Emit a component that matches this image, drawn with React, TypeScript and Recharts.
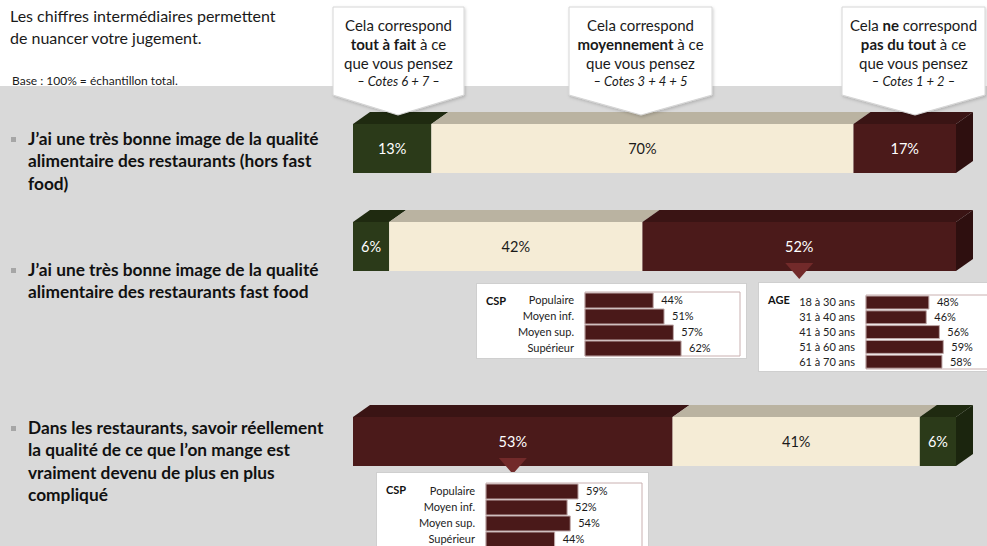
import React from "react";
import { BarChart, Bar, XAxis, YAxis, LabelList, ReferenceArea } from "recharts";

const FONT = "Lato, 'Open Sans', sans-serif";

// statements (left column)
const statements = [
  ["J’ai une très bonne image de la qualité", "alimentaire des restaurants (hors fast", "food)"],
  ["J’ai une très bonne image de la qualité", "alimentaire des restaurants fast food"],
  ["Dans les restaurants, savoir réellement", "la qualité de ce que l’on mange est", "vraiment devenu de plus en plus", "compliqué"],
];

// main stacked bars (%)
const toutAFait = [13, 6, 6];
const moyennement = [70, 42, 41];
const pasDuTout = [17, 52, 53];

// sub groups
const cspLabels = ["Populaire", "Moyen inf.", "Moyen sup.", "Supérieur"];
const cspFastFood = [44, 51, 57, 62];
const ageLabels = ["18 à 30 ans", "31 à 40 ans", "41 à 50 ans", "51 à 60 ans", "61 à 70 ans"];
const ageFastFood = [48, 46, 56, 59, 58];
const cspComplique = [59, 52, 54, 44];

const DX = 17;
const DY = 12;

const SEG: any = {
  pos: { front: "#2b3a19", top: "#1f2a10", side: "#1b250e", text: "#ffffff" },
  mid: { front: "#f5ecd6", top: "#bab3a1", side: "#a9a290", text: "#1a1a1a" },
  neg: { front: "#4b1a1a", top: "#3a1414", side: "#2e0f0f", text: "#ffffff" },
};

function Segment3D(props: any) {
  const { x, y, width: w, height: h, colors, last, pointer } = props;
  const cx = x + w / 2;
  return (
    <g>
      <polygon points={`${x},${y} ${x + DX},${y - DY} ${x + w + DX},${y - DY} ${x + w},${y}`} fill={colors.top} />
      <rect x={x} y={y} width={w} height={h} fill={colors.front} />
      {last && (
        <polygon
          points={`${x + w},${y} ${x + w + DX},${y - DY} ${x + w + DX},${y + h - DY} ${x + w},${y + h}`}
          fill={colors.side}
        />
      )}
      {pointer && (
        <polygon points={`${cx - 14},${y + h - 8} ${cx + 14},${y + h - 8} ${cx},${y + h + 8}`} fill="#722a2a" />
      )}
    </g>
  );
}

function MainBar({ index, order, frontTop, pointer }: any) {
  const row = [{ name: "r", pos: toutAFait[index], mid: moyennement[index], neg: pasDuTout[index] }];
  return (
    <div style={{ position: "absolute", left: 353, top: frontTop - DY }}>
      <BarChart
        width={603 + DX}
        height={DY + 49 + 10}
        data={row}
        layout="vertical"
        margin={{ top: DY, right: DX, bottom: 10, left: 0 }}
        barCategoryGap={0}
      >
        <XAxis type="number" domain={[0, 100]} hide />
        <YAxis type="category" dataKey="name" hide />
        {order.map((k: string, i: number) => (
          <Bar
            key={k}
            dataKey={k}
            stackId="s"
            fill={SEG[k].front}
            isAnimationActive={false}
            shape={(p: any) => (
              <Segment3D {...p} colors={SEG[k]} last={i === order.length - 1} pointer={pointer === k} />
            )}
          >
            <LabelList
              dataKey={k}
              position="center"
              fill={SEG[k].text}
              fontSize={14.5}
              fontFamily={FONT}
              formatter={(v: any) => `${v}%`}
            />
          </Bar>
        ))}
      </BarChart>
    </div>
  );
}

function SubChart({ title, labels, values, box, yWidth, margin, barSize }: any) {
  const data = labels.map((l: string, i: number) => ({ name: l, v: values[i] }));
  return (
    <div
      style={{
        position: "absolute",
        left: box.left,
        top: box.top,
        width: box.width,
        height: box.height,
        background: "#fff",
        border: "1px solid #cfcfcf",
        boxSizing: "border-box",
      }}
    >
      <div style={{ position: "absolute", left: 9, top: 10, fontSize: 11, fontWeight: 700, color: "#111" }}>{title}</div>
      <div style={{ position: "absolute", left: -1, top: -1 }}>
        <BarChart width={box.width} height={box.height} data={data} layout="vertical" margin={margin}>
          <XAxis type="number" domain={[0, 100]} hide />
          <YAxis
            type="category"
            dataKey="name"
            width={yWidth}
            axisLine={false}
            tickLine={false}
            tickMargin={5}
            tick={{ fontSize: 11, fill: "#222", fontFamily: FONT }}
            interval={0}
          />
          <ReferenceArea x1={0} x2={100} fill="none" stroke="#c9b0b0" strokeWidth={1} ifOverflow="visible" />
          <Bar dataKey="v" fill="#4a1919" stroke="#bfa9a9" strokeWidth={1} barSize={barSize} isAnimationActive={false}>
            <LabelList
              dataKey="v"
              position="right"
              offset={8}
              fontSize={11}
              fill="#1a1a1a"
              fontFamily={FONT}
              formatter={(v: any) => `${v}%`}
            />
          </Bar>
        </BarChart>
      </div>
    </div>
  );
}

const callouts = [
  { left: 333, right: 464, tip: 398, lines: [["Cela correspond"], ["@tout à fait", " à ce"], ["que vous pensez"]], note: "– Cotes 6 + 7 –" },
  { left: 569, right: 712, tip: 641, lines: [["Cela correspond"], ["@moyennement", " à ce"], ["que vous pensez"]], note: "– Cotes 3 + 4 + 5" },
  { left: 842, right: 985, tip: 915, lines: [["Cela ", "@ne", " correspond"], ["@pas du tout", " à ce"], ["que vous pensez"]], note: "– Cotes 1 + 2 –" },
];

function Callouts() {
  return (
    <svg width={987} height={130} style={{ position: "absolute", left: 0, top: 0 }}>
      <defs>
        <filter id="sh" x="-10%" y="-10%" width="120%" height="130%">
          <feDropShadow dx="1" dy="1.5" stdDeviation="1.5" floodColor="#000" floodOpacity="0.18" />
        </filter>
      </defs>
      {callouts.map((c, i) => {
        const mid = (c.left + c.right) / 2;
        return (
          <g key={i}>
            <polygon
              points={`${c.left},7 ${c.right},7 ${c.right},95 ${c.tip},115 ${c.left},95`}
              fill="#ffffff"
              stroke="#d6d6d6"
              strokeWidth={1}
              filter="url(#sh)"
            />
            {c.lines.map((ln, j) => (
              <text key={j} x={mid} y={25 + j * 19} textAnchor="middle" dominantBaseline="central" fontSize={15} fill="#1a1a1a" fontFamily={FONT}>
                {ln.map((part, k) =>
                  part.startsWith("@") ? (
                    <tspan key={k} fontWeight={700}>{part.slice(1)}</tspan>
                  ) : (
                    <tspan key={k}>{part}</tspan>
                  )
                )}
              </text>
            ))}
            <text x={mid} y={81} textAnchor="middle" dominantBaseline="central" fontSize={13} fontStyle="italic" fill="#1a1a1a" fontFamily={FONT}>
              {c.note}
            </text>
          </g>
        );
      })}
    </svg>
  );
}

function Statement({ lines, top }: any) {
  return (
    <div style={{ position: "absolute", left: 0, top }}>
      <div style={{ position: "absolute", left: 11, top: 9, width: 5, height: 5, background: "#a6a6a6" }} />
      <div style={{ position: "absolute", left: 28, top: 0, whiteSpace: "nowrap", fontSize: 17.3, fontWeight: 700, lineHeight: "22.3px", color: "#111" }}>
        {lines.map((l: string, i: number) => (
          <div key={i}>{l}</div>
        ))}
      </div>
    </div>
  );
}

export default function App() {
  return (
    <div
      style={{
        position: "absolute",
        left: 0,
        top: 0,
        width: 987,
        height: 546,
        overflow: "hidden",
        background: "#ffffff",
        fontFamily: FONT,
      }}
    >
      <div style={{ position: "absolute", left: 0, top: 86, width: 987, height: 460, background: "#d9d9d9" }} />
      <div style={{ position: "absolute", left: 10, top: 5, fontSize: 16, lineHeight: "22px", color: "#1a1a1a", whiteSpace: "nowrap" }}>
        <div>Les chiffres intermédiaires permettent</div>
        <div>de nuancer votre jugement.</div>
      </div>
      <div style={{ position: "absolute", left: 12, top: 73, fontSize: 12, color: "#1a1a1a", whiteSpace: "nowrap" }}>
        Base : 100% = échantillon total.
      </div>

      <Statement lines={statements[0]} top={128} />
      <Statement lines={statements[1]} top={259} />
      <Statement lines={statements[2]} top={417} />

      <MainBar index={0} order={["pos", "mid", "neg"]} frontTop={124} />
      <MainBar index={1} order={["pos", "mid", "neg"]} frontTop={222} pointer="neg" />
      <MainBar index={2} order={["neg", "mid", "pos"]} frontTop={417} pointer="neg" />

      <SubChart
        title="CSP"
        labels={cspLabels}
        values={cspFastFood}
        box={{ left: 476, top: 283, width: 271, height: 76 }}
        yWidth={109}
        margin={{ top: 9, right: 7, bottom: 3, left: 0 }}
        barSize={15}
      />
      <SubChart
        title="AGE"
        labels={ageLabels}
        values={ageFastFood}
        box={{ left: 758, top: 282, width: 240, height: 90 }}
        yWidth={108}
        margin={{ top: 13, right: 1, bottom: 3, left: 0 }}
        barSize={13}
      />
      <SubChart
        title="CSP"
        labels={cspLabels}
        values={cspComplique}
        box={{ left: 376, top: 472, width: 273, height: 80 }}
        yWidth={110}
        margin={{ top: 11, right: 7, bottom: 5, left: 0 }}
        barSize={15}
      />

      <Callouts />
    </div>
  );
}
